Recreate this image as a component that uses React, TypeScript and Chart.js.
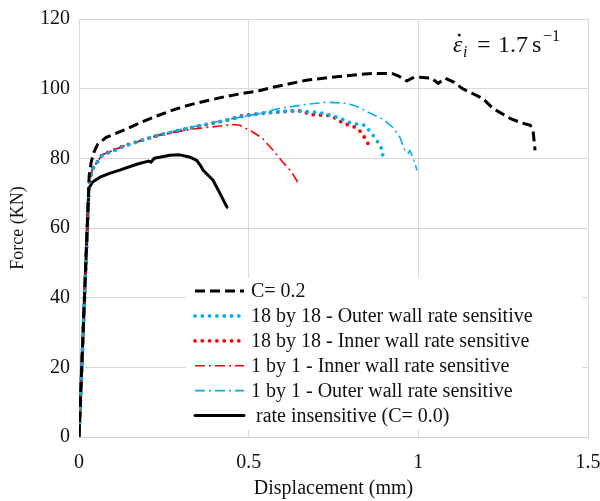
import React, { useEffect, useRef } from "react";
import { Chart, registerables } from "chart.js";

Chart.register(...registerables);

// Axis ticks
const dispTicks = [0, 0.5, 1, 1.5];
const forceTicks = [0, 20, 40, 60, 80, 100, 120];

// C = 0.2
const c02Disp = [0, 0.03, 0.036, 0.045, 0.055, 0.08, 0.13, 0.18, 0.233, 0.28, 0.332, 0.38, 0.43, 0.48, 0.53, 0.571, 0.62, 0.67, 0.72, 0.768, 0.82, 0.865, 0.924, 0.944, 0.966, 0.983, 0.996, 1.04, 1.058, 1.079, 1.106, 1.13, 1.19, 1.22, 1.24, 1.27, 1.3, 1.33, 1.338, 1.344];
const c02Force = [0, 75, 79, 82, 84, 86, 88, 90.2, 92.3, 94, 95.5, 96.6, 97.7, 98.6, 99.4, 100.4, 101.4, 102.4, 103, 103.5, 104, 104.4, 104.3, 103.5, 102.2, 103.1, 103.3, 103, 101.5, 103, 101.8, 100, 97.2, 94.3, 93.2, 91.5, 90.3, 89.5, 88, 82.3];

// 18 by 18 - outer wall rate sensitive
const outer18Disp = [0, 0.03, 0.04, 0.068, 0.135, 0.233, 0.333, 0.43, 0.495, 0.56, 0.62, 0.68, 0.72, 0.77, 0.804, 0.843, 0.867, 0.881, 0.893, 0.896];
const outer18Force = [0, 73, 77, 80.8, 83.5, 86.6, 88.9, 90.9, 92.3, 93.2, 93.6, 93.4, 92.9, 91.5, 90, 89.5, 86.6, 84.6, 82.6, 80.3];

// 18 by 18 - inner wall rate sensitive
const inner18Disp = [0, 0.03, 0.04, 0.068, 0.135, 0.233, 0.333, 0.43, 0.483, 0.56, 0.63, 0.66, 0.68, 0.74, 0.763, 0.778, 0.8, 0.82, 0.834, 0.846, 0.858];
const inner18Force = [0, 73, 77, 81, 83.7, 86.6, 88.8, 90.8, 92.3, 93.1, 93.6, 93.6, 92.6, 92.3, 91.2, 90, 89.5, 88.6, 87.2, 85.2, 83.2];

// 1 by 1 - inner wall rate sensitive
const inner1Disp = [0, 0.03, 0.04, 0.068, 0.135, 0.233, 0.333, 0.41, 0.455, 0.474, 0.513, 0.54, 0.572, 0.601, 0.627, 0.645];
const inner1Force = [0, 73, 77, 81, 83.6, 86.5, 88.4, 89.2, 89.7, 89.5, 87.5, 85.8, 82.3, 78.9, 76, 73.1];

// 1 by 1 - outer wall rate sensitive
const outer1Disp = [0, 0.03, 0.04, 0.068, 0.135, 0.233, 0.333, 0.43, 0.533, 0.59, 0.67, 0.73, 0.79, 0.828, 0.852, 0.867, 0.896, 0.925, 0.946, 0.96, 0.97, 0.975, 0.985, 0.996];
const outer1Force = [0, 73, 77, 81, 83.7, 86.8, 89, 91, 92.9, 94.3, 95.5, 96.1, 95.8, 94.6, 93.2, 92.6, 91.2, 88.9, 86, 82.3, 81.4, 82.3, 80, 76.6];

// rate insensitive (C = 0.0)
const c00Disp = [0, 0.029, 0.04, 0.062, 0.09, 0.12, 0.17, 0.205, 0.212, 0.222, 0.268, 0.297, 0.325, 0.347, 0.36, 0.366, 0.395, 0.415, 0.436];
const c00Force = [0, 71.4, 73.2, 74.6, 75.7, 76.6, 78.3, 79.2, 78.9, 80, 80.9, 81, 80.4, 79.4, 77.6, 76.6, 73.7, 70, 66];

const seriesLabels = [
  "C= 0.2",
  "18 by 18 - Outer wall rate sensitive",
  "18 by 18 - Inner wall rate sensitive",
  "1 by 1 - Inner wall rate sensitive",
  "1 by 1 - Outer wall rate sensitive",
  " rate insensitive (C= 0.0)",
];

const CYAN = "#00b0f0";
const RED = "#ff0000";
const SERIF = "'Liberation Serif', 'Times New Roman', serif";

const toPoints = (xs: number[], ys: number[]) => xs.map((x, i) => ({ x, y: ys[i] }));

// Line legend drawn inside the plot on a white panel
const innerLegend = {
  id: "innerLegend",
  afterDraw(chart: any) {
    const { ctx, chartArea } = chart;
    const boxLeft = chartArea.left + 107;
    const boxTop = chartArea.top + 259;
    const boxRight = chartArea.right - 6;
    const boxBottom = chartArea.bottom - 7;
    ctx.save();
    ctx.fillStyle = "#ffffff";
    ctx.fillRect(boxLeft, boxTop, boxRight - boxLeft, boxBottom - boxTop);
    const rowH = 24.9;
    const firstY = chartArea.top + 272;
    chart.data.datasets.forEach((ds: any, i: number) => {
      const y = firstY + i * rowH;
      const x0 = chartArea.left + 116;
      const x1 = chartArea.left + 165;
      ctx.save();
      ctx.strokeStyle = ds.borderColor;
      ctx.lineWidth = ds.borderWidth;
      ctx.lineCap = ds.borderCapStyle || "butt";
      ctx.setLineDash(ds.borderDash || []);
      ctx.beginPath();
      ctx.moveTo(x0, y);
      ctx.lineTo(x1, y);
      ctx.stroke();
      ctx.restore();
      ctx.fillStyle = "#111111";
      ctx.font = `20px ${SERIF}`;
      ctx.textBaseline = "middle";
      ctx.textAlign = "left";
      ctx.fillText(ds.label, chartArea.left + 172, y + 1);
    });
    ctx.restore();
  },
};

// Strain-rate note in the top right corner
const rateNote = {
  id: "rateNote",
  afterDraw(chart: any) {
    const { ctx, chartArea } = chart;
    const x0 = chartArea.right - 135;
    const base = chartArea.top + 33;
    ctx.save();
    ctx.fillStyle = "#111111";
    ctx.textBaseline = "alphabetic";
    ctx.textAlign = "left";
    ctx.font = `italic 24px ${SERIF}`;
    ctx.fillText("ε", x0, base);
    const epsW = ctx.measureText("ε").width;
    ctx.beginPath();
    ctx.arc(x0 + epsW / 2 + 1.5, base - 17, 1.5, 0, Math.PI * 2);
    ctx.fill();
    ctx.font = `italic 16px ${SERIF}`;
    ctx.fillText("i", x0 + epsW + 0.5, base + 5);
    ctx.font = `24px ${SERIF}`;
    ctx.fillText("=", x0 + 24, base);
    ctx.fillText("1.7", x0 + 45, base);
    ctx.fillText("s", x0 + 79, base);
    ctx.font = `16px ${SERIF}`;
    ctx.fillText("−1", x0 + 90, base - 11);
    ctx.restore();
  },
};

export default function App() {
  const canvasRef = useRef<HTMLCanvasElement | null>(null);

  useEffect(() => {
    if (!canvasRef.current) return;
    const dotted = { borderDash: [0, 7.3], borderCapStyle: "round", borderWidth: 3.8 };
    const dashDot = { borderDash: [10, 4, 2, 4], borderCapStyle: "butt", borderWidth: 1.6 };
    const chart = new Chart(canvasRef.current, {
      type: "scatter",
      data: {
        datasets: [
          { label: seriesLabels[0], data: toPoints(c02Disp, c02Force), borderColor: "#000000", borderWidth: 3, borderDash: [10, 5], borderCapStyle: "butt" },
          { label: seriesLabels[1], data: toPoints(outer18Disp, outer18Force), borderColor: CYAN, ...dotted },
          { label: seriesLabels[2], data: toPoints(inner18Disp, inner18Force), borderColor: RED, ...dotted },
          { label: seriesLabels[3], data: toPoints(inner1Disp, inner1Force), borderColor: RED, ...dashDot },
          { label: seriesLabels[4], data: toPoints(outer1Disp, outer1Force), borderColor: CYAN, ...dashDot },
          { label: seriesLabels[5], data: toPoints(c00Disp, c00Force), borderColor: "#000000", borderWidth: 3, borderCapStyle: "round" },
        ].map((d: any) => ({
          ...d,
          showLine: true,
          pointRadius: 0,
          pointHoverRadius: 0,
          tension: 0,
          fill: false,
          borderJoinStyle: "round",
          backgroundColor: d.borderColor,
        })),
      },
      options: {
        animation: false,
        responsive: false,
        events: [],
        layout: { padding: { left: 0, top: 19, right: 12, bottom: 0 } },
        plugins: { legend: { display: false }, tooltip: { enabled: false } },
        scales: {
          x: {
            type: "linear",
            min: dispTicks[0],
            max: dispTicks[dispTicks.length - 1],
            afterBuildTicks: (scale: any) => {
              scale.ticks = dispTicks.map((v) => ({ value: v }));
            },
            afterFit: (scale: any) => {
              scale.height = 64;
              scale.paddingLeft = 0;
              scale.paddingRight = 0;
            },
            grid: { color: "#d9d9d9", lineWidth: 1, drawTicks: false },
            border: { display: true, color: "#d0d0d0", width: 1 },
            ticks: { padding: 14, color: "#111111", font: { family: SERIF, size: 20 }, callback: (v: any) => String(v) },
            title: { display: true, text: "Displacement (mm)", color: "#111111", font: { family: SERIF, size: 20 }, padding: { top: 0, bottom: 0 } },
          },
          y: {
            type: "linear",
            min: forceTicks[0],
            max: forceTicks[forceTicks.length - 1],
            afterBuildTicks: (scale: any) => {
              scale.ticks = forceTicks.map((v) => ({ value: v }));
            },
            afterFit: (scale: any) => {
              scale.width = 79;
              scale.paddingTop = 0;
              scale.paddingBottom = 0;
            },
            grid: { color: "#d9d9d9", lineWidth: 1, drawTicks: false },
            border: { display: true, color: "#d9d9d9", width: 1 },
            ticks: { padding: 9, color: "#111111", font: { family: SERIF, size: 20 }, callback: (v: any) => String(v) },
            title: { display: true, text: "Force (KN)", color: "#111111", font: { family: SERIF, size: 18 }, padding: { top: 7, bottom: 0 } },
          },
        },
      },
      plugins: [innerLegend, rateNote],
    } as any);
    return () => chart.destroy();
  }, []);

  return (
    <div style={{ position: "absolute", left: 0, top: 0, width: 600, height: 501, background: "#ffffff" }}>
      <canvas ref={canvasRef} width={600} height={501} style={{ display: "block" }} />
    </div>
  );
}
